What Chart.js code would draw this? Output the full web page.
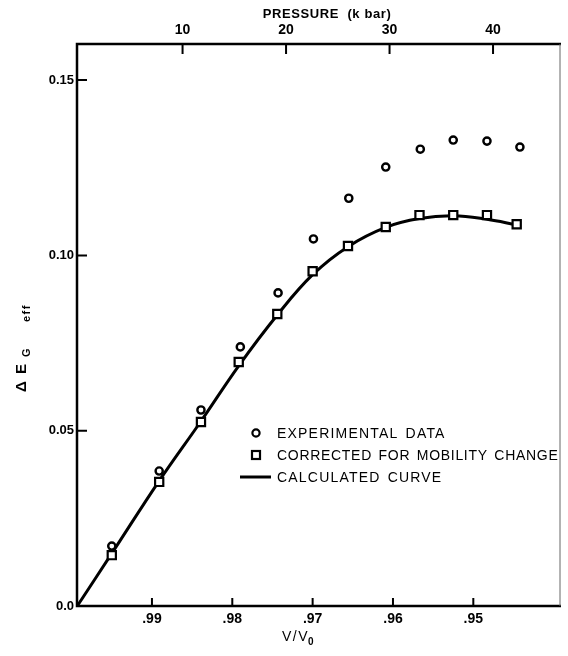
<!DOCTYPE html>
<html>
<head>
<meta charset="utf-8">
<script src="https://cdn.jsdelivr.net/npm/chart.js@4"></script>
<style>
  html, body { margin: 0; padding: 0; background: #fff; }
  #wrap { width: 568px; height: 656px; position: relative; }
</style>
</head>
<body>
<div id="wrap"><canvas id="c"></canvas></div>
<script>
// ---- data ----
const vExperimental = [0.9950, 0.9891, 0.9839, 0.9790, 0.9743, 0.9699, 0.9655, 0.9609, 0.9566, 0.9525, 0.9483, 0.9442];
const eExperimental = [0.0171, 0.0385, 0.0559, 0.0739, 0.0893, 0.1047, 0.1163, 0.1252, 0.1303, 0.1329, 0.1326, 0.1309];
const vCorrected = [0.9950, 0.9891, 0.9839, 0.9792, 0.9744, 0.9700, 0.9656, 0.9609, 0.9567, 0.9525, 0.9483, 0.9446];
const eCorrected = [0.0145, 0.0354, 0.0525, 0.0696, 0.0833, 0.0955, 0.1027, 0.1081, 0.1115, 0.1115, 0.1115, 0.1089];
const vCurve = [0.9993, 0.9950, 0.9891, 0.9839, 0.9792, 0.9744, 0.9700, 0.9656, 0.9609, 0.9567, 0.9525, 0.9483, 0.9446];
const eCurve = [0.0000, 0.0150, 0.0357, 0.0527, 0.0685, 0.0830, 0.0945, 0.1025, 0.1080, 0.1105, 0.1113, 0.1103, 0.1087];
const vTicks = [0.99, 0.98, 0.97, 0.96, 0.95];
const vTickLabels = ['.99', '.98', '.97', '.96', '.95'];
const pressureTicks = [10, 20, 30, 40];
const pressureTickLabels = ['10', '20', '30', '40'];
const eTicks = [0, 0.05, 0.10, 0.15];
const eTickLabels = ['0.0', '0.05', '0.10', '0.15'];
const legendLabels = ['EXPERIMENTAL DATA', 'CORRECTED FOR MOBILITY CHANGE', 'CALCULATED CURVE'];

const FONT = '"Liberation Sans", Arial, sans-serif';

const toXY = (xs, ys) => xs.map((x, i) => ({ x: x, y: ys[i] }));

function fixedTicks(values) {
  return function (scale) { scale.ticks = values.map(v => ({ value: v })); };
}

const decor = {
  id: 'decor',
  afterDraw(chart) {
    const ctx = chart.ctx;
    const a = chart.chartArea;
    const xs = chart.scales.x, x2 = chart.scales.x2, ys = chart.scales.y;
    ctx.save();
    ctx.strokeStyle = '#000';
    ctx.fillStyle = '#000';
    // frame
    ctx.lineWidth = 2.5;
    ctx.beginPath();
    ctx.moveTo(a.right + 1, a.top); ctx.lineTo(a.left, a.top); ctx.lineTo(a.left, a.bottom); ctx.lineTo(a.right + 1, a.bottom);
    ctx.stroke();
    ctx.strokeStyle = '#666';
    ctx.lineWidth = 1;
    ctx.beginPath(); ctx.moveTo(a.right, a.top); ctx.lineTo(a.right, a.bottom); ctx.stroke();
    ctx.strokeStyle = '#000';
    // inward ticks
    ctx.lineWidth = 2;
    ctx.beginPath();
    vTicks.forEach(v => { const px = xs.getPixelForValue(v); ctx.moveTo(px, a.bottom); ctx.lineTo(px, a.bottom - 8); });
    pressureTicks.forEach(v => { const px = x2.getPixelForValue(v); ctx.moveTo(px, a.top); ctx.lineTo(px, a.top + 10); });
    eTicks.slice(1).forEach(v => { const py = ys.getPixelForValue(v); ctx.moveTo(a.left, py); ctx.lineTo(a.left + 10, py); });
    ctx.stroke();

    // top title
    ctx.textBaseline = 'alphabetic';
    ctx.letterSpacing = '0.6px';
    ctx.font = 'bold 13px ' + FONT;
    ctx.textAlign = 'center';
    ctx.fillText('PRESSURE  (k bar)', 327, 18);
    // V/V0
    ctx.letterSpacing = '1.5px';
    ctx.font = '14px ' + FONT;
    ctx.textAlign = 'left';
    const tx = 282;
    ctx.fillText('V/V', tx, 641);
    const w1 = ctx.measureText('V/V').width;
    ctx.letterSpacing = '0px';
    ctx.font = 'bold 10px ' + FONT;
    ctx.fillText('0', tx + w1 - 1, 645);
    // y title rotated
    ctx.save();
    ctx.translate(26, 392);
    ctx.rotate(-Math.PI / 2);
    ctx.textAlign = 'left';
    ctx.font = 'bold 15px ' + FONT;
    ctx.fillText('\u0394', 0, 0);
    ctx.fillText('E', 18, 0);
    ctx.font = 'bold 11px ' + FONT;
    ctx.fillText('G', 35, 4);
    ctx.letterSpacing = '1.5px';
    ctx.fillText('eff', 70, 4);
    ctx.restore();

    // legend
    const rows = [433, 455, 477];
    const spacing = ['1.2px', '0.7px', '1.2px'];
    ctx.wordSpacing = '2px';
    ctx.font = '14px ' + FONT;
    ctx.textAlign = 'left';
    ctx.textBaseline = 'middle';
    ctx.lineWidth = 2.2;
    ctx.beginPath(); ctx.arc(256, rows[0], 3.6, 0, Math.PI * 2); ctx.stroke();
    ctx.strokeRect(252, rows[1] - 4, 8, 8);
    ctx.lineWidth = 3;
    ctx.beginPath(); ctx.moveTo(240, rows[2]); ctx.lineTo(271, rows[2]); ctx.stroke();
    legendLabels.forEach((t, i) => { ctx.letterSpacing = spacing[i]; ctx.fillText(t, 277, rows[i] + 1); });
    ctx.restore();
  }
};

new Chart(document.getElementById('c'), {
  type: 'scatter',
  data: {
    datasets: [
      {
        label: 'Calculated curve',
        data: toXY(vCurve, eCurve),
        showLine: true,
        borderColor: '#000',
        borderWidth: 3,
        pointRadius: 0,
        tension: 0.4,
        order: 3
      },
      {
        label: 'Corrected for mobility change',
        data: toXY(vCorrected, eCorrected),
        showLine: false,
        pointStyle: 'rect',
        pointRadius: 5.8,
        pointBorderWidth: 2.2,
        pointBorderColor: '#000',
        pointBackgroundColor: '#fff',
        order: 2
      },
      {
        label: 'Experimental data',
        data: toXY(vExperimental, eExperimental),
        showLine: false,
        pointStyle: 'circle',
        pointRadius: 3.6,
        pointBorderWidth: 2.4,
        pointBorderColor: '#000',
        pointBackgroundColor: '#fff',
        order: 1
      }
    ]
  },
  options: {
    responsive: true,
    maintainAspectRatio: false,
    animation: false,
    layout: { padding: { left: 0, right: 1, top: 0, bottom: 0 } },
    plugins: { legend: { display: false }, tooltip: { enabled: false } },
    scales: {
      x: {
        type: 'linear', position: 'bottom', reverse: true,
        min: 0.93921, max: 0.99933,
        afterBuildTicks: fixedTicks(vTicks),
        afterFit: s => { s.height = 50; },
        grid: { display: false, drawTicks: false },
        border: { display: false },
        ticks: {
          padding: 5, color: '#000', maxRotation: 0, autoSkip: false,
          font: { family: FONT, size: 14, weight: 'bold' },
          callback: v => vTickLabels[vTicks.findIndex(t => Math.abs(t - v) < 1e-6)]
        }
      },
      x2: {
        type: 'linear', position: 'top',
        min: -0.2, max: 46.47,
        afterBuildTicks: fixedTicks(pressureTicks),
        afterFit: s => { s.height = 44; },
        grid: { display: false, drawTicks: false },
        border: { display: false },
        ticks: {
          padding: 5, color: '#000', maxRotation: 0, autoSkip: false,
          font: { family: FONT, size: 14, weight: 'bold' },
          callback: v => pressureTickLabels[pressureTicks.indexOf(v)]
        }
      },
      y: {
        type: 'linear', position: 'left',
        min: 0, max: 0.1603,
        afterBuildTicks: fixedTicks(eTicks),
        afterFit: s => { s.width = 77; },
        grid: { display: false, drawTicks: false },
        border: { display: false },
        ticks: {
          padding: 3, color: '#000', autoSkip: false,
          font: { family: FONT, size: 13, weight: 'bold' },
          callback: v => eTickLabels[eTicks.findIndex(t => Math.abs(t - v) < 1e-6)]
        }
      }
    }
  },
  plugins: [decor]
});
</script>
</body>
</html>
